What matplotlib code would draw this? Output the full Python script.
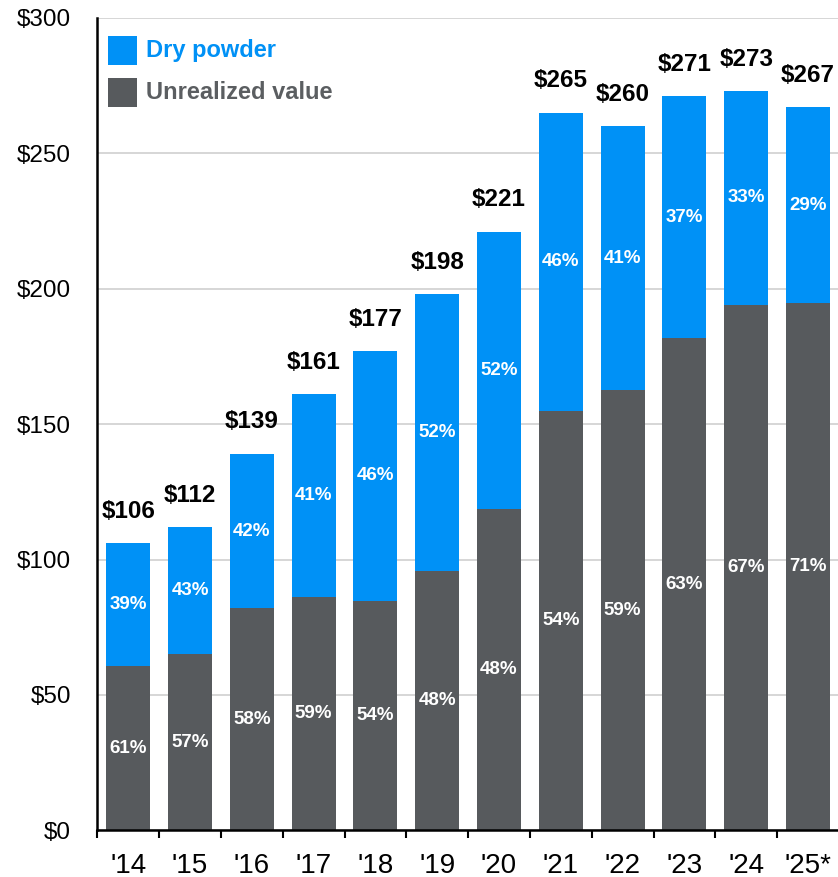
import matplotlib
matplotlib.use("Agg")
import matplotlib.pyplot as plt
from matplotlib.patches import Rectangle
import numpy as np

plt.rcParams['font.family'] = ['Liberation Sans', 'DejaVu Sans']

years = ["'14", "'15", "'16", "'17", "'18", "'19", "'20", "'21", "'22", "'23", "'24", "'25*"]
totals = [106, 112, 139, 161, 177, 198, 221, 265, 260, 271, 273, 267]
unrealized = [60.5, 65.2, 82.0, 86.0, 84.7, 95.9, 118.8, 154.8, 162.5, 181.9, 194.1, 194.7]
dry_powder = [t - u for t, u in zip(totals, unrealized)]
unreal_pct = ["61%", "57%", "58%", "59%", "54%", "48%", "48%", "54%", "59%", "63%", "67%", "71%"]
dry_pct = ["39%", "43%", "42%", "41%", "46%", "52%", "52%", "46%", "41%", "37%", "33%", "29%"]
total_labels = ["$%d" % t for t in totals]
yticks = [0, 50, 100, 150, 200, 250, 300]
ytick_labels = ["$0", "$50", "$100", "$150", "$200", "$250", "$300"]

BLUE = '#0091F6'
GRAY = '#575A5D'

W, H = 838, 877
fig = plt.figure(figsize=(W / 100, H / 100), dpi=100)
ax = fig.add_axes([97.3 / W, 1 - 830.3 / H, 741.6 / W, 812.4 / H])

x = np.arange(len(years))
bw = 0.71
ax.bar(x, unrealized, width=bw, color=GRAY, zorder=2)
ax.bar(x, dry_powder, width=bw, bottom=unrealized, color=BLUE, zorder=2)

for i in range(len(years)):
    ax.text(x[i], unrealized[i] / 2, unreal_pct[i], ha='center', va='center',
            color='white', fontsize=13.5, fontweight='bold', zorder=3)
    ax.text(x[i], unrealized[i] + dry_powder[i] / 2, dry_pct[i], ha='center', va='center',
            color='white', fontsize=13.5, fontweight='bold', zorder=3)
    ax.annotate(total_labels[i], (x[i], totals[i]), xytext=(0, 23), textcoords='offset points',
                ha='center', va='center', fontsize=17.5, fontweight='bold', color='black')

ax.set_xlim(-0.5, len(years) - 0.5)
ax.set_ylim(0, 300)
ax.set_yticks(yticks)
ax.set_yticklabels(ytick_labels, fontsize=17.5)
ax.tick_params(axis='y', length=0, pad=19)

ax.set_xticks(x)
ax.set_xticklabels(years, fontsize=20)
ax.set_xticks(np.arange(len(years)) - 0.5, minor=True)
ax.tick_params(axis='x', which='major', length=0, pad=16)
ax.tick_params(axis='x', which='minor', length=6, width=1.5, color='black', direction='out')

ax.yaxis.grid(True, color='#d0d0d0', linewidth=1.2, zorder=0)
ax.set_axisbelow(True)
for s in ['top', 'right']:
    ax.spines[s].set_visible(False)
ax.spines['left'].set_linewidth(1.8)
ax.spines['bottom'].set_linewidth(1.8)
ax.spines['left'].set_color('black')
ax.spines['bottom'].set_color('black')

# legend
leg_items = [("Dry powder", BLUE, BLUE, 50.5), ("Unrealized value", GRAY, '#5B5E61', 92.5)]
for label, fc, tc, yc in leg_items:
    fig.patches.append(Rectangle((108 / W, 1 - (yc + 14.5) / H), 29 / W, 29 / H,
                                 transform=fig.transFigure, facecolor=fc, edgecolor='none'))
    fig.text(146 / W, 1 - yc / H, label, ha='left', va='center', fontsize=17,
             fontweight='bold', color=tc)

fig.savefig('out.png', dpi=100)
